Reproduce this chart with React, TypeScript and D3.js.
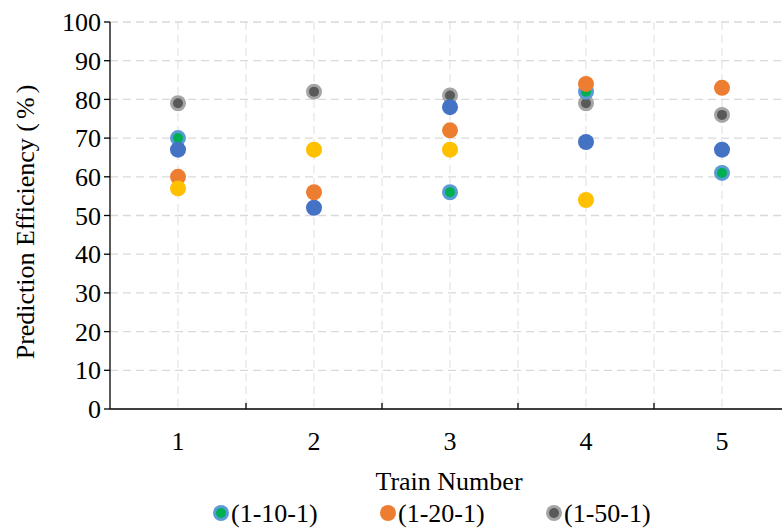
import React from "react";
import * as d3 from "d3";

const trains = ["1", "2", "3", "4", "5"];
const tickValues = [0, 10, 20, 30, 40, 50, 60, 70, 80, 90, 100];

// Network configurations (null = no result for that train)
const net1501: (number | null)[] = [79, 82, 81, 79, 76];
const net1101: (number | null)[] = [70, null, 56, 82, 61];
const netBlue: (number | null)[] = [67, 52, 78, 69, 67];
const net1201: (number | null)[] = [60, 56, 72, 84, 83];
const netYellow: (number | null)[] = [57, 67, 67, 54, null];

const W = 782;
const H = 529;
const M = { left: 110, right: 790, top: 22, bottom: 409 };
const FONT = "Liberation Serif, Times New Roman, Times, DejaVu Serif, serif";
const FS = 26;

type Series = { name: string; values: (number | null)[]; outer: string; inner?: string; legend: boolean };

const series: Series[] = [
  { name: "(1-50-1)", values: net1501, outer: "#A5A5A5", inner: "#595959", legend: true },
  { name: "(1-10-1)", values: net1101, outer: "#5B9BD5", inner: "#00B050", legend: true },
  { name: "blue", values: netBlue, outer: "#4472C4", legend: false },
  { name: "(1-20-1)", values: net1201, outer: "#ED7D31", legend: true },
  { name: "yellow", values: netYellow, outer: "#FFC000", legend: false },
];

const legendOrder = ["(1-10-1)", "(1-20-1)", "(1-50-1)"];
const legendX = [221, 388, 554];

const txt = { fontFamily: FONT, fontSize: FS, fill: "#000" } as React.CSSProperties;

function Marker({ cx, cy, s }: { cx: number; cy: number; s: Series }) {
  return (
    <g>
      <circle cx={cx} cy={cy} r={8} fill={s.outer} />
      {s.inner && <circle cx={cx} cy={cy} r={5} fill={s.inner} />}
    </g>
  );
}

export default function App() {
  const x = d3.scaleBand<string>().domain(trains).range([M.left, M.right]).padding(0);
  const y = d3.scaleLinear().domain([0, 100]).range([M.bottom, M.top]);
  const bw = x.bandwidth();
  const centers = trains.map((t) => (x(t) as number) + bw / 2);
  const bounds = trains.slice(1).map((t) => x(t) as number);

  return (
    <svg width={W} height={H} style={{ position: "absolute", left: 0, top: 0 }}>
      <rect width={W} height={H} fill="#fff" />
      {/* vertical gridlines */}
      {[...centers, ...bounds].map((gx, i) => (
        <line key={"v" + i} x1={gx} x2={gx} y1={M.top} y2={M.bottom} stroke="#E6E6E6" strokeWidth={1.3} strokeDasharray="8,5" />
      ))}
      {/* horizontal gridlines */}
      {tickValues.slice(1).map((v) => (
        <line key={"h" + v} x1={M.left} x2={W} y1={y(v)} y2={y(v)} stroke="#D9D9D9" strokeWidth={1.3} strokeDasharray="8,5" />
      ))}
      {/* axes */}
      <line x1={M.left} x2={M.left} y1={M.top} y2={M.bottom} stroke="#000" strokeWidth={1.3} />
      <line x1={M.left} x2={W} y1={M.bottom} y2={M.bottom} stroke="#000" strokeWidth={1.3} />
      {tickValues.map((v) => (
        <g key={"yt" + v}>
          <line x1={M.left - 6} x2={M.left} y1={y(v)} y2={y(v)} stroke="#000" strokeWidth={1.3} />
          <text x={M.left - 9} y={y(v)} dy="0.35em" textAnchor="end" style={txt}>
            {v}
          </text>
        </g>
      ))}
      {bounds.map((bx, i) => (
        <line key={"xt" + i} x1={bx} x2={bx} y1={M.bottom - 6} y2={M.bottom} stroke="#000" strokeWidth={1.3} />
      ))}
      {trains.map((t, i) => (
        <text key={"xl" + t} x={centers[i]} y={450} textAnchor="middle" style={txt}>
          {t}
        </text>
      ))}
      <text x={449} y={490} textAnchor="middle" style={txt}>
        Train Number
      </text>
      <text transform={`translate(34, 220) rotate(-90)`} textAnchor="middle" style={txt}>
        Prediction Efficiency <tspan letterSpacing={4}>(%)</tspan>
      </text>
      {/* points */}
      {series.map((s) =>
        s.values.map((v, i) =>
          v == null ? null : <Marker key={s.name + i} cx={centers[i]} cy={y(v)} s={s} />
        )
      )}
      {/* legend */}
      {legendOrder.map((name, i) => {
        const s = series.find((d) => d.name === name) as Series;
        return (
          <g key={"lg" + name}>
            <Marker cx={legendX[i]} cy={513} s={s} />
            <text x={legendX[i] + 10} y={522} style={txt}>
              {name}
            </text>
          </g>
        );
      })}
    </svg>
  );
}
